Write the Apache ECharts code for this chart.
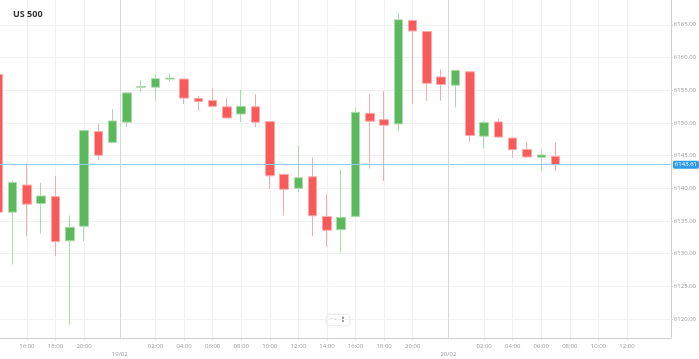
<!DOCTYPE html>
<html>
<head>
<meta charset="utf-8">
<script src="https://cdn.jsdelivr.net/npm/echarts@6/dist/echarts.min.js"></script>
<style>html,body{margin:0;padding:0;background:#fff;}#c{width:699px;height:359px;}</style>
</head>
<body>
<div id="c"></div>
<script>
// Hourly slots (market closed 22:00-23:00), including future empty slots on the axis
const slotTimes = [
  '18/02 14:00','18/02 15:00','18/02 16:00','18/02 17:00','18/02 18:00','18/02 19:00','18/02 20:00','18/02 21:00','18/02 23:00',
  '19/02 00:00','19/02 01:00','19/02 02:00','19/02 03:00','19/02 04:00','19/02 05:00','19/02 06:00','19/02 07:00','19/02 08:00',
  '19/02 09:00','19/02 10:00','19/02 11:00','19/02 12:00','19/02 13:00','19/02 14:00','19/02 15:00','19/02 16:00','19/02 17:00',
  '19/02 18:00','19/02 19:00','19/02 20:00','19/02 21:00','19/02 23:00',
  '20/02 00:00','20/02 01:00','20/02 02:00','20/02 03:00','20/02 04:00','20/02 05:00','20/02 06:00','20/02 07:00',
  '20/02 08:00','20/02 09:00','20/02 10:00','20/02 11:00','20/02 12:00','20/02 13:00'
];
const opens  = [6157.42,6136.36,6140.50,6137.68,6138.74,6131.97,6134.20,6148.68,6147.02,6150.11,6155.45,6155.45,6156.70,6156.71,6153.74,6153.44,6152.47,6151.36,6152.47,6150.20,6142.12,6140.00,6141.77,6135.71,6133.68,6135.71,6151.47,6150.50,6149.85,6165.65,6163.98,6157.02,6155.76,6157.83,6147.98,6150.15,6147.68,6145.95,6144.74,6144.89];
const closes = [6136.36,6140.91,6137.58,6138.83,6131.86,6134.05,6148.83,6145.05,6150.30,6154.59,6155.55,6156.77,6156.85,6153.79,6153.29,6152.53,6150.76,6152.53,6150.11,6141.92,6139.85,6141.62,6135.80,6133.59,6135.56,6151.62,6150.26,6149.65,6165.76,6164.05,6156.06,6155.86,6158.03,6148.08,6150.05,6147.83,6145.91,6144.80,6145.11,6143.61];
const lows   = [6136.30,6128.38,6132.68,6133.08,6129.65,6119.14,6131.92,6144.29,6146.95,6149.35,6154.65,6153.38,6156.36,6152.88,6151.86,6152.45,6150.60,6150.11,6149.35,6139.89,6135.86,6139.39,6132.68,6131.11,6130.15,6135.60,6143.03,6141.11,6148.74,6152.88,6153.38,6153.38,6152.38,6147.08,6146.06,6147.75,6144.65,6144.65,6142.62,6142.62];
const highs  = [6157.50,6141.17,6143.79,6140.86,6141.86,6135.86,6148.95,6149.85,6152.12,6154.65,6156.56,6157.42,6157.58,6156.80,6154.14,6155.30,6153.79,6155.05,6154.39,6150.30,6142.30,6146.56,6144.70,6139.09,6142.88,6152.38,6154.39,6154.89,6166.77,6165.80,6164.05,6158.18,6158.10,6157.90,6150.35,6150.61,6147.75,6147.08,6145.80,6146.97];
const lastPrice = 6143.61;
const priceTicks = [6120,6125,6130,6135,6140,6145,6150,6155,6160,6165];
const title = 'US 500';

// derived axis positions
const timeTickSlots = [];
const dayStartSlots = [];
slotTimes.forEach((t, i) => {
  const [d, hm] = t.split(' ');
  const h = parseInt(hm, 10);
  if (h % 2 === 0 && h !== 0) timeTickSlots.push(i);
  if (i > 0 && slotTimes[i - 1].split(' ')[0] !== d) dayStartSlots.push(i);
});
const daySepSlots = dayStartSlots.map(i => i - 0.5);
const labelSlots = timeTickSlots.concat(daySepSlots).sort((a, b) => a - b);
function slotLabel(v) {
  if (Math.abs(v - Math.round(v)) > 0.1) {
    const d = slotTimes[Math.round(v + 0.5)].split(' ')[0];
    return '\n' + d;
  }
  return slotTimes[Math.round(v)].split(' ')[1];
}
const candleData = opens.map((o, i) => [i, o, closes[i], lows[i], highs[i]]);

const chart = echarts.init(document.getElementById('c'), null, {renderer: 'canvas'});
chart.setOption({
  animation: false,
  backgroundColor: '#fff',
  title: {
    text: title, left: 8, top: 5,
    textStyle: {fontFamily: 'Open Sans', fontSize: 9, fontWeight: 'bold', color: '#333'}
  },
  grid: {left: 0, right: 24, top: 0, bottom: 18, containLabel: false, show: false},
  xAxis: {
    type: 'value', min: 0.117, max: 47.07,
    axisLine: {show: true, lineStyle: {color: '#cfcfcf', width: 1}},
    axisTick: {show: true, customValues: timeTickSlots, length: 2, lineStyle: {color: '#d8d8d8'}},
    axisLabel: {
      customValues: labelSlots, formatter: slotLabel, margin: 4,
      fontFamily: 'Open Sans', fontSize: 6, color: '#9a9a9a', lineHeight: 8.5
    },
    splitLine: {show: true, lineStyle: {color: '#f1f1f1', width: 1}}
  },
  yAxis: {
    type: 'value', position: 'right', min: 6117.12, max: 6168.79, scale: true,
    axisLine: {show: true, lineStyle: {color: '#cfcfcf', width: 1}},
    axisTick: {show: true, customValues: priceTicks, length: 2, lineStyle: {color: '#d8d8d8'}},
    axisLabel: {
      customValues: priceTicks, formatter: v => v.toFixed(2), margin: 3,
      fontFamily: 'Open Sans', fontSize: 6, color: '#9a9a9a'
    },
    splitLine: {show: true, lineStyle: {color: '#f1f1f1', width: 1}}
  },
  series: [{
    type: 'candlestick',
    data: candleData,
    encode: {x: 0, y: [1, 2, 3, 4]},
    barWidth: 9,
    clip: true,
    itemStyle: {
      color: '#5cb85c', color0: '#f85a5a',
      borderColor: '#a9dca9', borderColor0: '#fbaaaa', borderWidth: 1
    },
    markLine: {
      silent: true, symbol: 'none', animation: false,
      data: [
        {yAxis: lastPrice, lineStyle: {color: '#8ecdf3', width: 1.2, type: 'solid'},
         label: {show: true, position: 'end', distance: 2, formatter: lastPrice.toFixed(2),
                 color: '#fff', backgroundColor: '#2d9be6', padding: [1, 2], borderRadius: 2,
                 fontFamily: 'Open Sans', fontSize: 6}}
      ].concat(daySepSlots.map(s => ({xAxis: s, lineStyle: {color: '#d6d6d6', width: 1, type: 'solid'}, label: {show: false}})))
    }
  }],
  graphic: [{
    type: 'group', left: 327, top: 315,
    children: [
      {type: 'rect', shape: {x: 0, y: 0, width: 22, height: 10, r: 1},
       style: {fill: '#fff', shadowBlur: 3, shadowColor: 'rgba(0,0,0,0.2)'}},
      {type: 'text', x: 6, y: 5, style: {text: '−', fontSize: 9, fontWeight: 'bold', fill: '#555', fontFamily: 'DejaVu Sans', align: 'center', verticalAlign: 'middle'}},
      {type: 'text', x: 16, y: 5, style: {text: '+', fontSize: 9, fontWeight: 'bold', fill: '#555', fontFamily: 'DejaVu Sans', align: 'center', verticalAlign: 'middle'}}
    ]
  }]
});
</script>
</body>
</html>
